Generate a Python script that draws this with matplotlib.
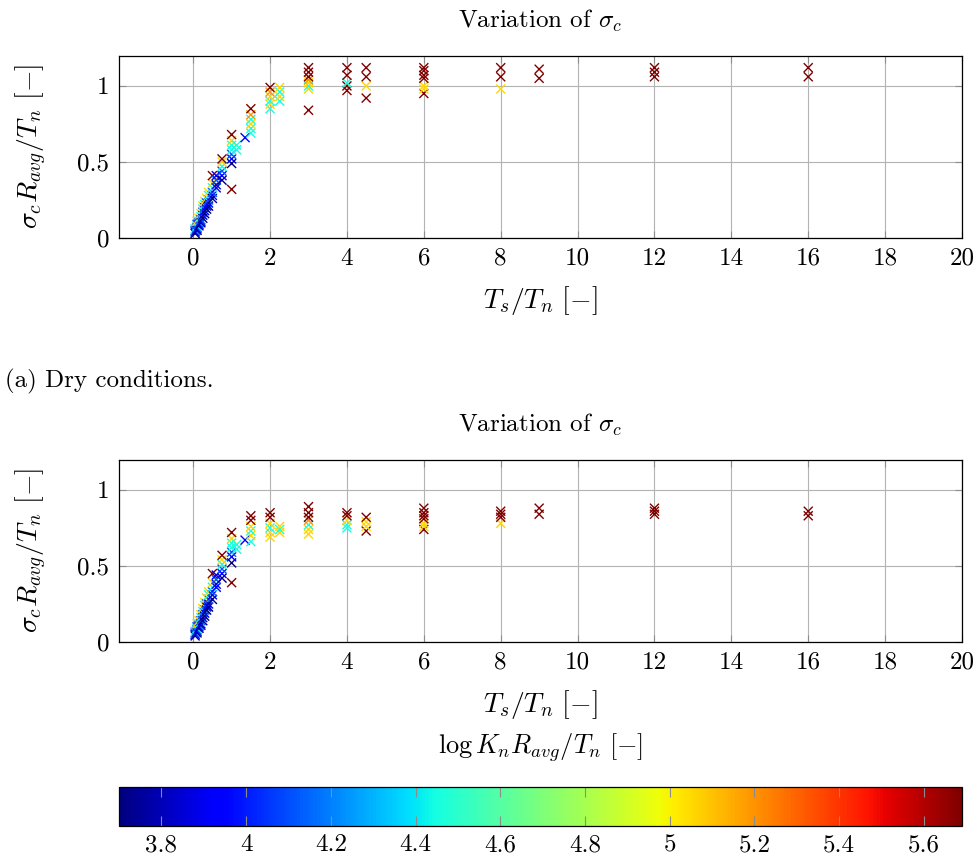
import numpy as np
import matplotlib
matplotlib.use("Agg")
import matplotlib.pyplot as plt
import matplotlib as mpl

mpl.rcParams['font.family'] = 'serif'
mpl.rcParams['font.serif'] = ['cmr10', 'DejaVu Serif']
mpl.rcParams['mathtext.fontset'] = 'cm'
mpl.rcParams['axes.formatter.use_mathtext'] = True
mpl.rcParams['axes.unicode_minus'] = False

# colour levels (log K_n R_avg / T_n)
K_DB, K_B, K_MB, K_C, K_Y, K_O, K_R = 3.70, 3.92, 4.12, 4.45, 5.06, 5.2, 5.69

# dry conditions: Ts/Tn, sigma_c R_avg/Tn, log K
ts_dry = [0.05, 0.05, 0.05, 0.05,
          0.1, 0.1, 0.1, 0.1, 0.1, 0.1,
          0.15, 0.15, 0.15, 0.15, 0.15,
          0.2, 0.2, 0.2, 0.2, 0.2,
          0.25, 0.25, 0.25, 0.25, 0.25,
          0.3, 0.3, 0.3, 0.3, 0.3,
          0.35, 0.35, 0.35, 0.35,
          0.4, 0.4, 0.4, 0.4, 0.4,
          0.5, 0.5, 0.5, 0.5, 0.5, 0.5,
          0.6, 0.6, 0.6, 0.6,
          0.75, 0.75, 0.75, 0.75, 0.75, 0.75,
          1.0, 1.0, 1.0, 1.0, 1.0, 1.0, 1.0, 1.0,
          1.13, 1.13, 1.35,
          1.5, 1.5, 1.5, 1.5, 1.5, 1.5,
          2, 2, 2, 2, 2, 2,
          2.25, 2.25, 2.25, 2.25,
          3, 3, 3, 3, 3, 3, 3, 3,
          4, 4, 4, 4, 4,
          4.5, 4.5, 4.5, 4.5,
          6, 6, 6, 6, 6, 6, 6,
          8, 8, 8,
          9, 9,
          12, 12, 12,
          16, 16]
sig_dry = [0.03, 0.04, 0.05, 0.06,
           0.05, 0.06, 0.07, 0.08, 0.09, 0.11,
           0.08, 0.09, 0.10, 0.11, 0.13,
           0.10, 0.11, 0.12, 0.14, 0.16,
           0.13, 0.15, 0.17, 0.19, 0.21,
           0.16, 0.18, 0.20, 0.22, 0.24,
           0.19, 0.21, 0.23, 0.26,
           0.21, 0.23, 0.25, 0.28, 0.30,
           0.26, 0.28, 0.30, 0.33, 0.36, 0.41,
           0.33, 0.35, 0.38, 0.41,
           0.38, 0.41, 0.44, 0.47, 0.50, 0.52,
           0.49, 0.52, 0.55, 0.58, 0.61, 0.64, 0.68, 0.32,
           0.58, 0.61, 0.66,
           0.69, 0.72, 0.75, 0.78, 0.81, 0.85,
           0.85, 0.88, 0.90, 0.93, 0.96, 0.99,
           0.90, 0.93, 0.96, 0.99,
           0.98, 1.00, 1.02, 1.04, 1.06, 1.09, 1.12, 0.84,
           0.97, 1.00, 1.02, 1.07, 1.12,
           0.92, 1.00, 1.06, 1.12,
           0.95, 0.98, 1.00, 1.05, 1.07, 1.10, 1.12,
           0.98, 1.06, 1.12,
           1.05, 1.11,
           1.06, 1.09, 1.12,
           1.06, 1.12]
logk_dry = [K_DB, K_B, K_MB, K_C,
            K_DB, K_B, K_MB, K_C, K_MB, K_Y,
            K_DB, K_B, K_MB, K_C, K_Y,
            K_DB, K_B, K_MB, K_C, K_Y,
            K_DB, K_B, K_MB, K_C, K_Y,
            K_DB, K_B, K_MB, K_C, K_Y,
            K_DB, K_B, K_MB, K_Y,
            K_DB, K_B, K_MB, K_C, K_Y,
            K_DB, K_B, K_MB, K_C, K_Y, K_R,
            K_B, K_B, K_MB, K_B,
            K_DB, K_B, K_MB, K_C, K_Y, K_R,
            K_DB, K_B, K_MB, K_C, K_C, K_Y, K_R, K_R,
            K_C, K_C, K_B,
            K_C, K_C, K_Y, K_C, K_O, K_R,
            K_C, K_Y, K_C, K_Y, K_O, K_R,
            K_C, K_Y, K_C, K_Y,
            K_Y, K_C, K_Y, K_O, K_R, K_R, K_R, K_R,
            K_R, K_R, K_C, K_R, K_R,
            K_R, K_Y, K_R, K_R,
            K_R, K_Y, K_Y, K_R, K_R, K_R, K_R,
            K_Y, K_R, K_R,
            K_R, K_R,
            K_R, K_R, K_R,
            K_R, K_R]

# wet conditions
ts_wet = [0.05, 0.05, 0.05, 0.05,
          0.1, 0.1, 0.1, 0.1, 0.1, 0.1,
          0.15, 0.15, 0.15, 0.15, 0.15,
          0.2, 0.2, 0.2, 0.2, 0.2,
          0.25, 0.25, 0.25, 0.25, 0.25,
          0.3, 0.3, 0.3, 0.3, 0.3,
          0.35, 0.35, 0.35, 0.35,
          0.4, 0.4, 0.4, 0.4, 0.4,
          0.5, 0.5, 0.5, 0.5, 0.5, 0.5,
          0.6, 0.6, 0.6, 0.6,
          0.75, 0.75, 0.75, 0.75, 0.75, 0.75,
          1.0, 1.0, 1.0, 1.0, 1.0, 1.0, 1.0, 1.0,
          1.13, 1.13, 1.35,
          1.5, 1.5, 1.5, 1.5, 1.5, 1.5,
          2, 2, 2, 2, 2, 2,
          2.25, 2.25, 2.25,
          3, 3, 3, 3, 3, 3, 3,
          4, 4, 4, 4, 4,
          4.5, 4.5, 4.5, 4.5,
          6, 6, 6, 6, 6, 6, 6,
          8, 8, 8, 8,
          9, 9,
          12, 12, 12,
          16, 16]
sig_wet = [0.04, 0.05, 0.06, 0.07,
           0.06, 0.07, 0.08, 0.09, 0.10, 0.12,
           0.09, 0.10, 0.11, 0.12, 0.14,
           0.11, 0.12, 0.14, 0.16, 0.18,
           0.14, 0.16, 0.18, 0.20, 0.22,
           0.17, 0.19, 0.21, 0.24, 0.26,
           0.21, 0.23, 0.25, 0.29,
           0.23, 0.25, 0.28, 0.31, 0.33,
           0.28, 0.31, 0.33, 0.36, 0.39, 0.45,
           0.36, 0.38, 0.41, 0.44,
           0.42, 0.45, 0.48, 0.51, 0.54, 0.57,
           0.52, 0.56, 0.59, 0.62, 0.65, 0.68, 0.72, 0.39,
           0.61, 0.64, 0.67,
           0.66, 0.70, 0.73, 0.76, 0.80, 0.83,
           0.69, 0.72, 0.75, 0.78, 0.82, 0.85,
           0.72, 0.74, 0.76,
           0.71, 0.74, 0.77, 0.80, 0.82, 0.85, 0.89,
           0.75, 0.77, 0.80, 0.83, 0.85,
           0.73, 0.76, 0.79, 0.82,
           0.74, 0.76, 0.78, 0.81, 0.83, 0.85, 0.88,
           0.78, 0.82, 0.84, 0.86,
           0.84, 0.88,
           0.84, 0.86, 0.88,
           0.83, 0.86]
logk_wet = [K_DB, K_B, K_MB, K_C,
            K_DB, K_B, K_MB, K_C, K_MB, K_Y,
            K_DB, K_B, K_MB, K_C, K_Y,
            K_DB, K_B, K_MB, K_C, K_Y,
            K_DB, K_B, K_MB, K_C, K_Y,
            K_DB, K_B, K_MB, K_C, K_Y,
            K_DB, K_B, K_MB, K_Y,
            K_DB, K_B, K_MB, K_C, K_Y,
            K_DB, K_B, K_MB, K_C, K_Y, K_R,
            K_B, K_B, K_MB, K_B,
            K_DB, K_B, K_MB, K_C, K_Y, K_R,
            K_DB, K_B, K_MB, K_C, K_C, K_Y, K_R, K_R,
            K_C, K_C, K_B,
            K_C, K_Y, K_C, K_Y, K_R, K_R,
            K_Y, K_Y, K_C, K_Y, K_R, K_R,
            K_Y, K_C, K_Y,
            K_Y, K_Y, K_C, K_O, K_R, K_R, K_R,
            K_C, K_C, K_Y, K_R, K_R,
            K_R, K_Y, K_Y, K_R,
            K_R, K_Y, K_Y, K_R, K_R, K_R, K_R,
            K_Y, K_R, K_R, K_R,
            K_R, K_R,
            K_R, K_R, K_R,
            K_R, K_R]

xticks = [0, 2, 4, 6, 8, 10, 12, 14, 16, 18, 20]
yticks = [0, 0.5, 1]
cticks = [3.8, 4.0, 4.2, 4.4, 4.6, 4.8, 5.0, 5.2, 5.4, 5.6]
cticklabels = ['3.8', '4', '4.2', '4.4', '4.6', '4.8', '5', '5.2', '5.4', '5.6']

W, H = 979, 858
fig = plt.figure(figsize=(W / 100, H / 100), dpi=100)
FS = 18

norm = mpl.colors.Normalize(vmin=3.70, vmax=5.69)
cmap = plt.get_cmap('jet')


def panel(bottom_px, ts, sig, logk):
    ax = fig.add_axes([119 / W, 1 - bottom_px / H, 843 / W, 182.5 / H])
    sc = ax.scatter(ts, sig, c=logk, cmap=cmap, norm=norm, marker='x',
                    s=42, linewidths=1.0, zorder=3)
    ax.set_xlim(-1.93, 20)
    ax.set_ylim(0, 1.2)
    ax.set_xticks(xticks)
    ax.set_xticklabels([str(t) for t in xticks])
    ax.set_yticks(yticks)
    ax.set_yticklabels(['0', '0.5', '1'])
    ax.grid(True, color='#b3b3b3', linewidth=0.8)
    ax.set_axisbelow(True)
    ax.tick_params(direction='in', top=True, right=True, length=5,
                   color='#8c8c8c', labelsize=FS, pad=7)
    for s in ax.spines.values():
        s.set_linewidth(0.9)
    ax.set_title(r'Variation of $\sigma_c$', fontsize=FS, pad=20)
    ax.set_xlabel(r'$T_s/T_n\ [-]$', fontsize=FS + 2, labelpad=10)
    ax.set_ylabel(r'$\sigma_c R_{avg}/T_n\ [-]$', fontsize=FS + 2, labelpad=20)
    return sc


sc = panel(238, ts_dry, sig_dry, logk_dry)
panel(642, ts_wet, sig_wet, logk_wet)

fig.text(5 / W, 1 - 381 / H, '(a) Dry conditions.', fontsize=FS,
         va='center', ha='left')

cax = fig.add_axes([119 / W, 1 - 826 / H, 843 / W, 39 / H])
cb = fig.colorbar(sc, cax=cax, orientation='horizontal')
cb.set_ticks(cticks)
cb.set_ticklabels(cticklabels)
cax.tick_params(direction='in', top=True, bottom=True, length=7,
                color='#8c8c8c', labelsize=FS, pad=6)
cb.outline.set_linewidth(0.9)
fig.text(540 / W, 1 - 748 / H, r'$\log K_n R_{avg}/T_n\ [-]$', fontsize=FS + 1,
         ha='center', va='center')

fig.savefig('out.png', dpi=100)
